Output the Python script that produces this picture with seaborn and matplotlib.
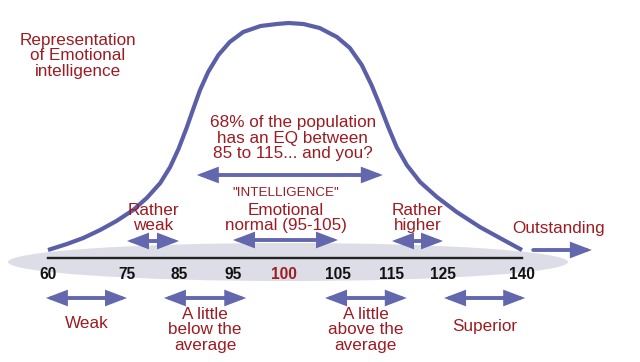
import numpy as np
import pandas as pd
import matplotlib
matplotlib.use("Agg")
import matplotlib.pyplot as plt
import seaborn as sns
from matplotlib.patches import Ellipse

# ---------------- data ----------------
tick_values = [60, 75, 85, 95, 100, 105, 115, 125, 140]
tick_labels = ["60", "75", "85", "95", "100", "105", "115", "125", "140"]

# bell curve: EQ value and height above the axis line
curve_eq = [60.0, 63.6, 66.7, 69.9, 73.0, 76.2, 78.8, 81.4, 83.3, 84.9,
            86.4, 87.7, 88.9, 90.4, 92.3, 94.4, 96.0, 97.7, 99.3, 100.4,
            101.8, 103.3, 104.9, 107.2, 109.4, 111.2, 112.8, 114.3, 115.9, 117.9,
            120.5, 123.8, 127.6, 132.0, 136.5, 140.0]
curve_height = [8, 14, 20, 28, 37, 48, 60, 75, 91, 109,
                130, 150, 168, 186, 203, 216, 226, 232, 234, 235,
                234, 230, 221, 210, 193, 173, 152, 131, 111, 93,
                76, 61, 46, 31, 18, 8]

upper_ranges = [(75, 85), (95, 105), (115, 125)]
upper_labels = ["Rather\nweak", "Emotional\nnormal (95-105)", "Rather\nhigher"]

population_range = (88.3, 113.3)
population_text = "68% of the population\nhas an EQ between\n85 to 115... and you?"

lower_ranges = [(59.6, 75.0), (82.1, 96.3), (103.8, 117.9), (125.2, 140.6)]
lower_labels = ["Weak", "A little\nbelow the\naverage", "A little\nabove the\naverage", "Superior"]

outstanding_range = (142.1, 153.1)
outstanding_label = "Outstanding"

title_text = "Representation\nof Emotional\nintelligence"
intelligence_text = "\"INTELLIGENCE\""

# ---------------- style ----------------
sns.set_style("white")
plt.rcParams['font.family'] = ['Liberation Sans', 'DejaVu Sans']

RED = "#9c1c22"
CURVE = "#5b5fa8"
ARROW = "#6367ae"
BAND = "#dcdde6"

fig = plt.figure(figsize=(6.4, 3.62), dpi=100)
ax = fig.add_axes([0, 0, 1, 1])

# piecewise-linear display scale of the diagram axis
TICK_PX = [48, 127, 179, 233, 284, 338, 392, 443, 522]
XP = np.array([0.0] + tick_values + [300.0])
FP = np.array([48 - 60 * 79 / 15] + TICK_PX + [522 + 160 * 80 / 15])


def fwd(v):
    return np.interp(v, XP, FP)


def inv(p):
    return np.interp(p, FP, XP)


ax.set_xscale('function', functions=(fwd, inv))
ax.set_xlim(inv(0), inv(640))
ax.set_ylim(258 - 362, 258)

# grey band behind the axis
ax.add_patch(Ellipse((288 / 640, 1 - 262 / 362), 560 / 640, 38 / 362,
                     transform=ax.transAxes, facecolor=BAND, edgecolor='none', zorder=0))

df = pd.DataFrame({"eq": curve_eq, "h": curve_height})
sns.lineplot(data=df, x="eq", y="h", sort=False, color=CURVE, lw=3.0,
             ax=ax, legend=False, zorder=3, solid_joinstyle='round',
             solid_capstyle='butt')
ax.set_xlabel("")
ax.set_ylabel("")

# axis styling
for s in ['left', 'top', 'right']:
    ax.spines[s].set_visible(False)
ax.spines['bottom'].set_position(('data', 0))
ax.spines['bottom'].set_bounds(60, 140)
ax.spines['bottom'].set_linewidth(1.7)
ax.spines['bottom'].set_color('#222222')
ax.spines['bottom'].set_zorder(4)
ax.set_yticks([])
ax.set_xticks(tick_values, tick_labels)
ax.tick_params(axis='x', direction='in', length=7.2, width=1.1, pad=6.6,
               labelsize=11.2, color='#222222')
for lab in ax.get_xticklabels():
    lab.set_fontweight('bold')
    lab.set_color(RED if lab.get_text() == "100" else '#111111')


def arrow(x0, x1, y, style='<|-|>'):
    ax.annotate('', xy=(x1, y), xytext=(x0, y),
                arrowprops=dict(arrowstyle=f'{style},head_length=1.05,head_width=0.4',
                                color=ARROW, lw=2.8, shrinkA=0, shrinkB=0,
                                mutation_scale=10, joinstyle='miter'),
                zorder=3)


txt = dict(color=RED, fontsize=12.3, ha='center', va='center', linespacing=1.05)

# title
ax.text(78 / 640, 1 - 56 / 362, title_text, transform=ax.transAxes, **txt)

# population arrow and text
arrow(*population_range, 83)
ax.text(np.mean(population_range), 120, population_text, **txt)

# upper ranges
ys_arrow = [17, 18, 17]
for (a, b), lab, ya in zip(upper_ranges, upper_labels, ys_arrow):
    arrow(a, b, ya)
    xm = inv((fwd(a) + fwd(b)) / 2)
    ax.text(xm, 40, lab, **txt)
ax.text(inv((fwd(95) + fwd(105)) / 2), 65, intelligence_text, color=RED,
        fontsize=9.6, ha='center', va='center')

# outstanding
arrow(*outstanding_range, 8, style='-|>')
ax.text(146.9, 29, outstanding_label, **txt)

# lower ranges
lower_y = [-65, -72, -72, -69]
for (a, b), lab, yl in zip(lower_ranges, lower_labels, lower_y):
    arrow(a, b, -40)
    xm = inv((fwd(a) + fwd(b)) / 2)
    ax.text(xm, yl, lab, **txt)

fig.savefig("out.png", dpi=100)
